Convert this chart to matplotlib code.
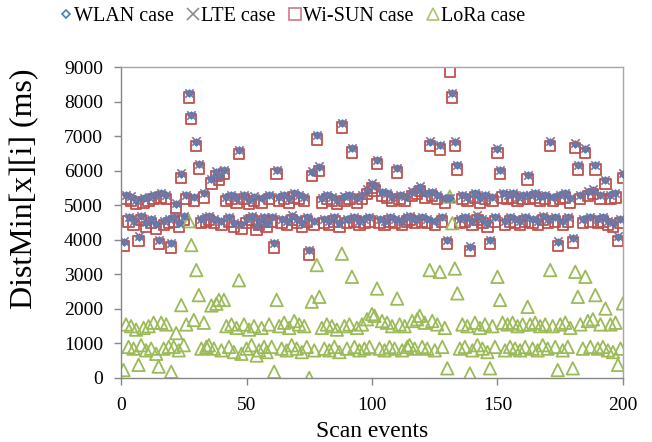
import numpy as np
import matplotlib.pyplot as plt

# scan event index 1..200
scan = np.arange(1, 201)

wlan_ms = [
    3950, 5300, 4650, 5250, 4550, 5150, 4090, 4700, 5200, 4500,
    5250, 4600, 5300, 4450, 3990, 5350, 4550, 5300, 4600, 3900,
    4650, 5050, 4500, 5920, 4700, 5300, 8240, 7610, 5250, 6840,
    6190, 4600, 5350, 4650, 4700, 5750, 4600, 5970, 5850, 4550,
    6020, 5250, 4650, 5300, 4500, 5200, 6600, 4450, 5300, 4600,
    5150, 4700, 5250, 4400, 4550, 5200, 4650, 4500, 5300, 4650,
    3900, 6020, 5250, 4600, 5300, 4550, 5200, 4700, 5350, 4600,
    5300, 4500, 5250, 4650, 3700, 5970, 4550, 7030, 6120, 5200,
    4600, 5300, 4550, 5250, 4650, 5150, 4500, 7370, 5250, 4600,
    5300, 6650, 4650, 5200, 4550, 5300, 4600, 5450, 4650, 5630,
    5550, 6310, 4600, 5400, 4550, 5350, 4650, 5250, 4600, 6070,
    5300, 4550, 5250, 4650, 4700, 5400, 4600, 5450, 5540, 4650,
    5350, 4600, 6840, 5400, 4550, 5300, 6740, 4650, 5200, 3990,
    5200, 8240, 6840, 6160, 4600, 5300, 4650, 5250, 3800, 4550,
    5350, 4700, 5200, 4600, 5300, 4500, 3990, 5250, 4650, 6640,
    6020, 5350, 4550, 5300, 4650, 5350, 4600, 5250, 4550, 5300,
    4650, 5870, 5300, 4600, 5350, 4550, 5250, 4700, 5300, 4600,
    6840, 5250, 4650, 3950, 5300, 4550, 5350, 4650, 5200, 4040,
    6790, 6160, 5300, 4600, 6640, 5400, 4650, 5450, 6160, 4600,
    5300, 4650, 5730, 4550, 5300, 4500, 5350, 4090, 4600, 5920,
]

lte_ms = [
    3960, 5300, 4650, 5260, 4550, 5150, 4100, 4700, 5200, 4510,
    5250, 4600, 5310, 4450, 4000, 5350, 4550, 5300, 4610, 3910,
    4650, 5060, 4500, 5930, 4700, 5300, 8250, 7620, 5250, 6850,
    6200, 4600, 5350, 4660, 4700, 5760, 4600, 5980, 5860, 4550,
    6030, 5250, 4650, 5310, 4500, 5200, 6610, 4450, 5300, 4610,
    5150, 4700, 5260, 4400, 4550, 5210, 4650, 4500, 5300, 4660,
    3910, 6030, 5250, 4600, 5310, 4550, 5200, 4710, 5350, 4600,
    5300, 4510, 5250, 4650, 3710, 5980, 4550, 7040, 6130, 5200,
    4600, 5310, 4550, 5250, 4660, 5150, 4500, 7380, 5260, 4600,
    5300, 6660, 4650, 5200, 4560, 5300, 4600, 5460, 4650, 5640,
    5560, 6320, 4600, 5400, 4550, 5360, 4650, 5250, 4610, 6080,
    5300, 4550, 5260, 4650, 4700, 5410, 4600, 5450, 5550, 4650,
    5350, 4610, 6850, 5400, 4550, 5310, 6750, 4650, 5200, 4000,
    5210, 8250, 6850, 6170, 4600, 5300, 4660, 5250, 3810, 4550,
    5350, 4710, 5200, 4600, 5310, 4500, 4000, 5250, 4650, 6650,
    6030, 5350, 4560, 5300, 4650, 5360, 4600, 5250, 4550, 5310,
    4650, 5880, 5300, 4610, 5350, 4550, 5260, 4700, 5300, 4610,
    6850, 5250, 4660, 3960, 5300, 4550, 5360, 4650, 5200, 4050,
    6800, 6170, 5300, 4600, 6650, 5410, 4650, 5460, 6170, 4600,
    5310, 4650, 5740, 4550, 5300, 4510, 5350, 4100, 4600, 5930,
]

wisun_ms = [
    3830, 5180, 4530, 5130, 4430, 5030, 3970, 4580, 5080, 4380,
    5130, 4480, 5180, 4330, 3870, 5230, 4430, 5180, 4480, 3780,
    4530, 4930, 4380, 5800, 4580, 5180, 8120, 7490, 5130, 6720,
    6070, 4480, 5230, 4530, 4580, 5630, 4480, 5850, 5730, 4430,
    5900, 5130, 4530, 5180, 4380, 5080, 6480, 4330, 5180, 4480,
    5030, 4580, 5130, 4280, 4430, 5080, 4530, 4380, 5180, 4530,
    3780, 5900, 5130, 4480, 5180, 4430, 5080, 4580, 5230, 4480,
    5180, 4380, 5130, 4530, 3580, 5850, 4430, 6910, 6000, 5080,
    4480, 5180, 4430, 5130, 4530, 5030, 4380, 7250, 5130, 4480,
    5180, 6530, 4530, 5080, 4430, 5180, 4480, 5330, 4530, 5510,
    5430, 6190, 4480, 5280, 4430, 5230, 4530, 5130, 4480, 5950,
    5180, 4430, 5130, 4530, 4580, 5280, 4480, 5330, 5420, 4530,
    5230, 4480, 6720, 5280, 4430, 5180, 6620, 4530, 5080, 3870,
    8860, 8120, 6720, 6040, 4480, 5180, 4530, 5130, 3680, 4430,
    5230, 4580, 5080, 4480, 5180, 4380, 3870, 5130, 4530, 6520,
    5900, 5230, 4430, 5180, 4530, 5230, 4480, 5130, 4430, 5180,
    4530, 5750, 5180, 4480, 5230, 4430, 5130, 4580, 5180, 4480,
    6720, 5130, 4530, 3830, 5180, 4430, 5230, 4530, 5080, 3920,
    6670, 6040, 5180, 4480, 6520, 5280, 4530, 5330, 6040, 4480,
    5180, 4530, 5610, 4430, 5180, 4380, 5230, 3970, 4480, 5800,
]

lora_ms = [
    230, 1550, 900, 1500, 850, 1400, 380, 950, 1450, 800,
    1500, 850, 1600, 700, 330, 1600, 850, 1550, 900, 180,
    900, 1300, 800, 2110, 950, 1550, 4540, 3850, 1680, 3125,
    2400, 850, 1600, 900, 950, 2100, 850, 2150, 2260, 800,
    2260, 1500, 900, 1550, 750, 1450, 2830, 700, 1550, 850,
    1400, 950, 1500, 650, 800, 1450, 900, 750, 1550, 900,
    180, 2260, 1500, 850, 1600, 800, 1450, 950, 1650, 850,
    1550, 750, 1500, 900, 0, 2210, 800, 3270, 2350, 1450,
    850, 1550, 800, 1500, 900, 1400, 750, 3600, 1500, 850,
    1550, 2930, 900, 1450, 800, 1550, 850, 1700, 900, 1850,
    1800, 2590, 850, 1650, 800, 1600, 900, 1500, 850, 2300,
    1550, 800, 1500, 900, 950, 1650, 850, 1700, 1800, 900,
    1600, 850, 3125, 1650, 800, 1550, 3075, 900, 1450, 280,
    5250, 4480, 3170, 2450, 850, 1550, 900, 1500, 130, 800,
    1600, 950, 1450, 850, 1550, 750, 280, 1500, 900, 2930,
    2260, 1600, 800, 1550, 900, 1600, 850, 1500, 800, 1550,
    900, 2060, 1550, 850, 1600, 800, 1500, 950, 1550, 850,
    3125, 1500, 900, 230, 1550, 800, 1600, 900, 1450, 280,
    3075, 2350, 1550, 850, 2930, 1650, 900, 1700, 2400, 850,
    1550, 900, 2010, 800, 1550, 750, 1600, 380, 850, 2160,
]

plt.rcParams['font.family'] = ['Liberation Serif', 'DejaVu Serif']

fig = plt.figure(figsize=(6.52, 4.42), dpi=100)
ax = fig.add_axes([0.1856, 0.1448, 0.7699, 0.7032])

h_wisun = ax.scatter(scan, wisun_ms, marker='s', s=55, facecolors='none',
                     edgecolors='#C0504D', linewidths=1.3, zorder=2, label='Wi-SUN case')
h_wlan = ax.scatter(scan, wlan_ms, marker='D', s=14, facecolors='#4A7EBB',
                    edgecolors='#4A7EBB', linewidths=0.8, zorder=3, label='WLAN case')
h_lte = ax.scatter(scan, lte_ms, marker='x', s=36, color='#7F7399',
                   linewidths=1.2, zorder=3, label='LTE case')
h_lora = ax.scatter(scan, lora_ms, marker='^', s=80, facecolors='none',
                    edgecolors='#9BBB59', linewidths=1.3, zorder=2, label='LoRa case')

ax.set_xlim(0, 200)
ax.set_ylim(0, 9000)
ax.set_xticks([0, 50, 100, 150, 200])
ax.set_yticks(range(0, 9001, 1000))
ax.tick_params(direction='out', length=5, width=1, color='#868686',
               labelsize=14)
ax.tick_params(axis='x', pad=9)
ax.tick_params(axis='y', pad=8)
for sp in ax.spines.values():
    sp.set_color('#A6A6A6')
    sp.set_linewidth(1.0)
ax.spines['left'].set_color('#868686')
ax.spines['bottom'].set_color('#868686')

ax.set_xlabel('Scan events', fontsize=17)
ax.xaxis.set_label_coords(0.5, -0.138)
ax.set_ylabel('DistMin[x][i] (ms)', fontsize=23)
ax.yaxis.set_label_coords(-0.163, 0.61)

# legend handles: marker only, open symbols like the reference key
h1 = plt.Line2D([], [], ls='none', marker='D', ms=4, mfc='none', mec='#4A7EBB', mew=1.2)
h2 = plt.Line2D([], [], ls='none', marker='x', ms=8, color='#8C8C8C', mew=1.2)
h3 = plt.Line2D([], [], ls='none', marker='s', ms=9, mfc='none', mec='#D07A88', mew=1.2)
h4 = plt.Line2D([], [], ls='none', marker='^', ms=8, mfc='none', mec='#A9C46E', mew=1.2)
leg = fig.legend([h1, h2, h3, h4],
                 ['WLAN case', 'LTE case', 'Wi-SUN case', 'LoRa case'],
                 loc='center', bbox_to_anchor=(0.448, 0.962), ncol=4,
                 frameon=False, fontsize=14.5, handletextpad=0.05,
                 handlelength=0.7, columnspacing=0.6)

fig.savefig('out.png', dpi=100)
